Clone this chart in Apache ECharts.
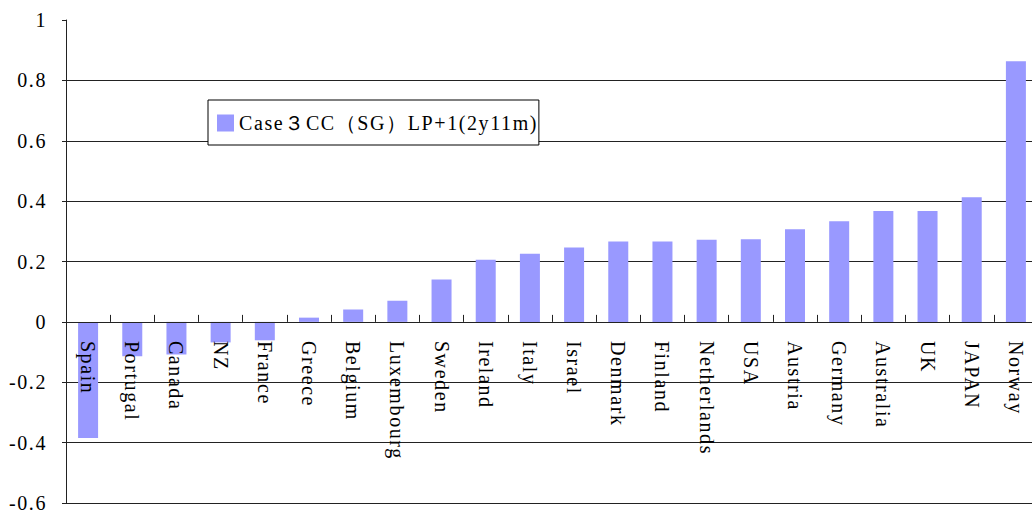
<!DOCTYPE html>
<html>
<head>
<meta charset="utf-8">
<script src="https://cdn.jsdelivr.net/npm/echarts@6/dist/echarts.min.js"></script>
<style>
html,body{margin:0;padding:0;background:#fff;}
#chart{width:1032px;height:513px;}
#chart text{letter-spacing:1.6px;}
</style>
</head>
<body>
<div id="chart"></div>
<script>
const categories = ["Spain","Portugal","Canada","NZ","France","Greece","Belgium","Luxembourg","Sweden","Ireland","Italy","Israel","Denmark","Finland","Netherlands","USA","Austria","Germany","Australia","UK","JAPAN","Norway"];
const values = [-0.385,-0.114,-0.108,-0.068,-0.061,0.014,0.041,0.07,0.14,0.206,0.226,0.246,0.266,0.266,0.272,0.274,0.307,0.333,0.367,0.367,0.413,0.863];
const seriesName = "Case３CC（SG）LP+1(2y11m)";
const yTicks = {min:-0.6, max:1, interval:0.2};

const font = "'Liberation Serif','Times New Roman',serif";
const gridBottom = 10;
const chart = echarts.init(document.getElementById('chart'), null, {renderer:'svg'});
const option = {
  animation:false,
  backgroundColor:'#fff',
  grid:{left:66, right:-6, top:20, bottom:gridBottom, containLabel:false, outerBoundsMode:'none'},
  legend:{
    show:true, left:208, top:100,
    padding:[13,36,12,9],
    itemWidth:17, itemHeight:17, itemGap:6,
    borderColor:'#000', borderWidth:1, backgroundColor:'#fff',
    icon:'rect',
    textStyle:{fontFamily:font, fontSize:20, color:'#000'},
    data:[seriesName]
  },
  xAxis:{
    type:'category', data:categories, position:'bottom', offset:0, z:5,
    axisLine:{show:true, onZero:false, lineStyle:{color:'#222', width:1}},
    axisTick:{show:true, inside:true, length:7, alignWithLabel:false, lineStyle:{color:'#222'}},
    axisLabel:{rotate:-90, margin:19, interval:0, color:'#000', fontFamily:font, fontSize:20, hideOverlap:false},
    splitLine:{show:false}
  },
  yAxis:{
    type:'value', min:yTicks.min, max:yTicks.max, interval:yTicks.interval,
    axisLine:{show:true, lineStyle:{color:'#222', width:1}},
    axisTick:{show:true, length:4, lineStyle:{color:'#222'}},
    axisLabel:{margin:19, color:'#000', fontFamily:font, fontSize:20,
      formatter:function(v){return String(Math.round(v*10)/10);}},
    splitLine:{show:true, showMaxLine:false, lineStyle:{color:'#222', width:1}}
  },
  series:[{
    name:seriesName, type:'bar', data:values, barWidth:20,
    itemStyle:{color:'#9999FF'}
  }]
};
chart.setOption(option);
const zeroY = chart.convertToPixel({yAxisIndex:0}, 0);
const bottomY = 513 - gridBottom;
chart.setOption({xAxis:{offset: zeroY - bottomY}});
</script>
</body>
</html>
